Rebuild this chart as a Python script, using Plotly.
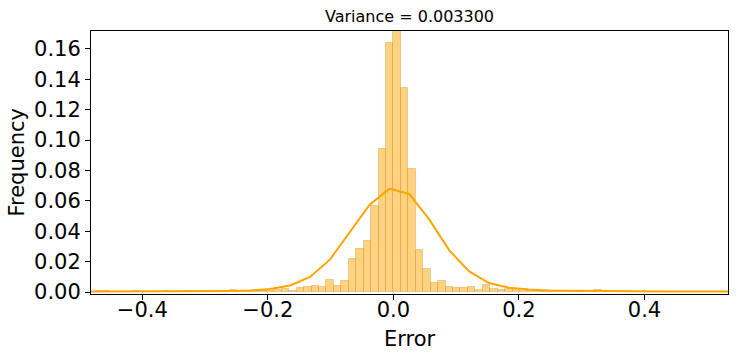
import numpy as np
import plotly.graph_objects as go

# histogram of errors (fine bins), frequency per bin
bin_start = -0.4744
bin_width = 0.01186
bar_freq = [
    0.0007, 0.0007, 0.0003, 0.0, 0.0003, 0.0005, 0.0003, 0.0, 0.0003, 0.0005,
    0.0003, 0.0, 0.0005, 0.0003, 0.0003, 0.0003, 0.0005, 0.0003, 0.0015, 0.0005,
    0.0005, 0.0007, 0.0007, 0.001, 0.0015, 0.002, 0.001, 0.0024, 0.0033, 0.0041,
    0.0035, 0.0081, 0.0041, 0.0074, 0.0219, 0.0285, 0.0338, 0.0564, 0.094, 0.164,
    0.172, 0.134, 0.081, 0.0277, 0.0149, 0.0061, 0.0075, 0.0035, 0.0028, 0.0028,
    0.0035, 0.0015, 0.0048, 0.0021, 0.0015, 0.0021, 0.0012, 0.0008, 0.0005, 0.0005,
    0.0008, 0.0003, 0.0005, 0.0003, 0.0003, 0.0003, 0.0005, 0.0015, 0.0005, 0.0003,
    0.0003, 0.0, 0.0003, 0.0003, 0.0, 0.0003, 0.0003, 0.0, 0.0003, 0.0003,
    0.0, 0.0003, 0.0003, 0.0, 0.0003,
]

# coarse frequency polygon
line_x = [
    -0.4817, -0.4500, -0.4183, -0.3866, -0.3549, -0.3232, -0.2915, -0.2597,
    -0.2280, -0.1963, -0.1646, -0.1329, -0.1012, -0.0695, -0.0378, -0.0061,
    0.0256, 0.0573, 0.0890, 0.1207, 0.1524, 0.1841, 0.2158, 0.2476,
    0.2793, 0.3110, 0.3427, 0.3744, 0.4061, 0.4378, 0.4695, 0.5012, 0.5330,
]
line_freq = [
    0.0003, 0.0003, 0.0003, 0.0003, 0.0004, 0.0004, 0.0005, 0.0007,
    0.001, 0.002, 0.0043, 0.0099, 0.0213, 0.039, 0.0575, 0.068,
    0.0645, 0.0476, 0.0274, 0.0136, 0.0059, 0.0028, 0.0016, 0.001,
    0.0008, 0.0006, 0.0005, 0.0004, 0.0004, 0.0003, 0.0003, 0.0003, 0.0003,
]

x_ticks = [-0.4, -0.2, 0.0, 0.2, 0.4]
x_ticktext = ["\u22120.4", "\u22120.2", "0.0", "0.2", "0.4"]
y_ticks = [0.0, 0.02, 0.04, 0.06, 0.08, 0.10, 0.12, 0.14, 0.16]

bar_centers = bin_start + bin_width * (np.arange(len(bar_freq)) + 0.5)

fig = go.Figure()
fig.add_trace(go.Bar(
    x=bar_centers, y=bar_freq, width=bin_width,
    marker=dict(color="rgba(255,165,0,0.5)",
                line=dict(color="rgba(200,140,40,0.35)", width=1)),
    showlegend=False,
))
fig.add_trace(go.Scatter(
    x=line_x, y=line_freq, mode="lines",
    line=dict(color="#FFA500", width=2),
    showlegend=False,
))

font = "DejaVu Sans"
fig.update_layout(
    width=737, height=352,
    margin=dict(l=91, r=9, t=31, b=58),
    plot_bgcolor="white", paper_bgcolor="white",
    bargap=0,
    font=dict(family=font, color="black"),
    xaxis=dict(
        range=[-0.4817, 0.533], tickvals=x_ticks, ticktext=x_ticktext,
        ticks="outside", ticklen=5, tickcolor="black", ticklabelstandoff=-8,
        showline=True, linecolor="black", linewidth=1, mirror=True,
        showgrid=False, zeroline=False, tickfont=dict(size=21),
    ),
    yaxis=dict(
        range=[-0.0013, 0.1718], tickvals=y_ticks, tickformat=".2f",
        ticks="outside", ticklen=5, tickcolor="black",
        showline=True, linecolor="black", linewidth=1, mirror=True,
        showgrid=False, zeroline=False, tickfont=dict(size=21),
    ),
    annotations=[
        dict(text="Variance = 0.003300", xref="paper", yref="paper",
             x=0.5, y=1, yanchor="bottom", yshift=3, showarrow=False,
             font=dict(size=16)),
        dict(text="Error", xref="paper", yref="paper", x=0.5, y=-0.1635,
             yanchor="middle", yshift=-2, showarrow=False, font=dict(size=21)),
        dict(text="Frequency", xref="paper", yref="paper", x=-0.1177, y=0.5,
             xanchor="center", yanchor="middle", textangle=-90,
             showarrow=False, font=dict(size=21)),
    ],
)

# drop the default body margin so the figure sits at the page origin
fig.write_html("out.html",
               config={"displayModeBar": False},
               post_script="document.body.style.margin='0';"
                           "document.body.style.overflow='hidden';")
